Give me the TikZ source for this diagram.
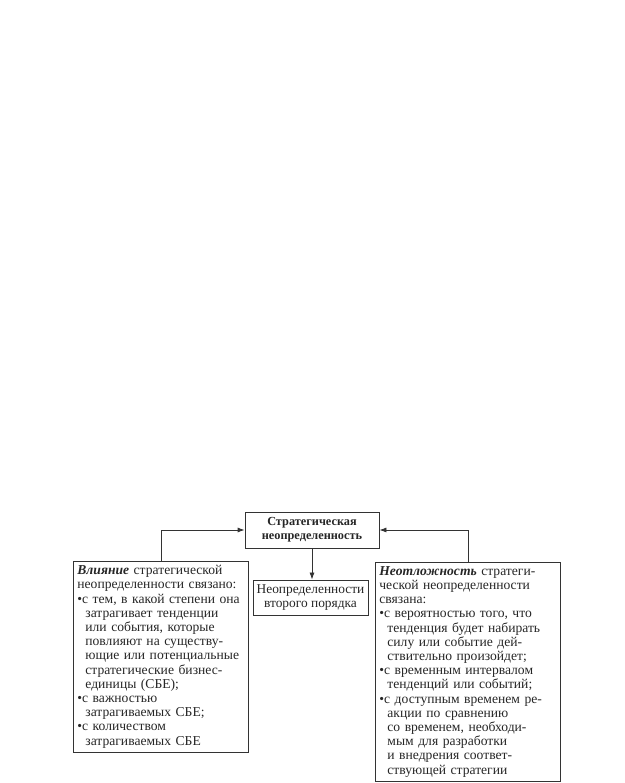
\documentclass[tikz,border=0pt]{standalone}
\usepackage{fontspec}
\setmainfont{Liberation Serif}
\usetikzlibrary{arrows.meta}
\begin{document}
\begin{tikzpicture}[x=1pt,y=1pt,
  txt/.style={font=\fontsize{13.6}{14.2}\selectfont, text=black!85},
  box/.style={draw=black!80, line width=0.8pt, txt},
  arr/.style={draw=black!80, line width=0.8pt, -{Latex[length=7pt,width=5pt]}}]
\useasboundingbox (0,0) rectangle (624,783);
\node[box, minimum width=134, minimum height=36, align=center, inner sep=0pt, font=\fontsize{12.3}{14}\selectfont\bfseries]
  (top) at (312,253) {Стратегическая\\неопределенность};
\node[box, minimum width=115, minimum height=35, align=center, inner sep=0pt, font=\fontsize{13.4}{14.5}\selectfont]
  (mid) at (310.5,185.5) {Неопределенности\\второго порядка};
\node[box, anchor=north west, text width=167, align=left, inner xsep=4pt, inner ysep=4pt]
  (left) at (73,222) {\textbf{\textit{Влияние}} стратегической\\
неопределенности связано:\\
•с тем, в какой степени она\\
\hspace*{8pt}затрагивает тенденции\\
\hspace*{8pt}или события, которые\\
\hspace*{8pt}повлияют на существу-\\
\hspace*{8pt}ющие или потенциальные\\
\hspace*{8pt}стратегические бизнес-\\
\hspace*{8pt}единицы (СБЕ);\\
•с важностью\\
\hspace*{8pt}затрагиваемых СБЕ;\\
•с количеством\\
\hspace*{8pt}затрагиваемых СБЕ};
\node[box, anchor=north west, text width=177, align=left, inner xsep=4pt, inner ysep=4pt]
  (right) at (375,221) {\textbf{\textit{Неотложность}} стратеги-\\
ческой неопределенности\\
связана:\\
•с вероятностью того, что\\
\hspace*{8pt}тенденция будет набирать\\
\hspace*{8pt}силу или событие дей-\\
\hspace*{8pt}ствительно произойдет;\\
•с временным интервалом\\
\hspace*{8pt}тенденций или событий;\\
•с доступным временем ре-\\
\hspace*{8pt}акции по сравнению\\
\hspace*{8pt}со временем, необходи-\\
\hspace*{8pt}мым для разработки\\
\hspace*{8pt}и внедрения соответ-\\
\hspace*{8pt}ствующей стратегии};
\draw[arr] (top.south) -- (top.south |- mid.north);
\draw[arr] (left.north) |- (top.west);
\draw[arr] (right.north) |- (top.east);
\end{tikzpicture}
\end{document}
